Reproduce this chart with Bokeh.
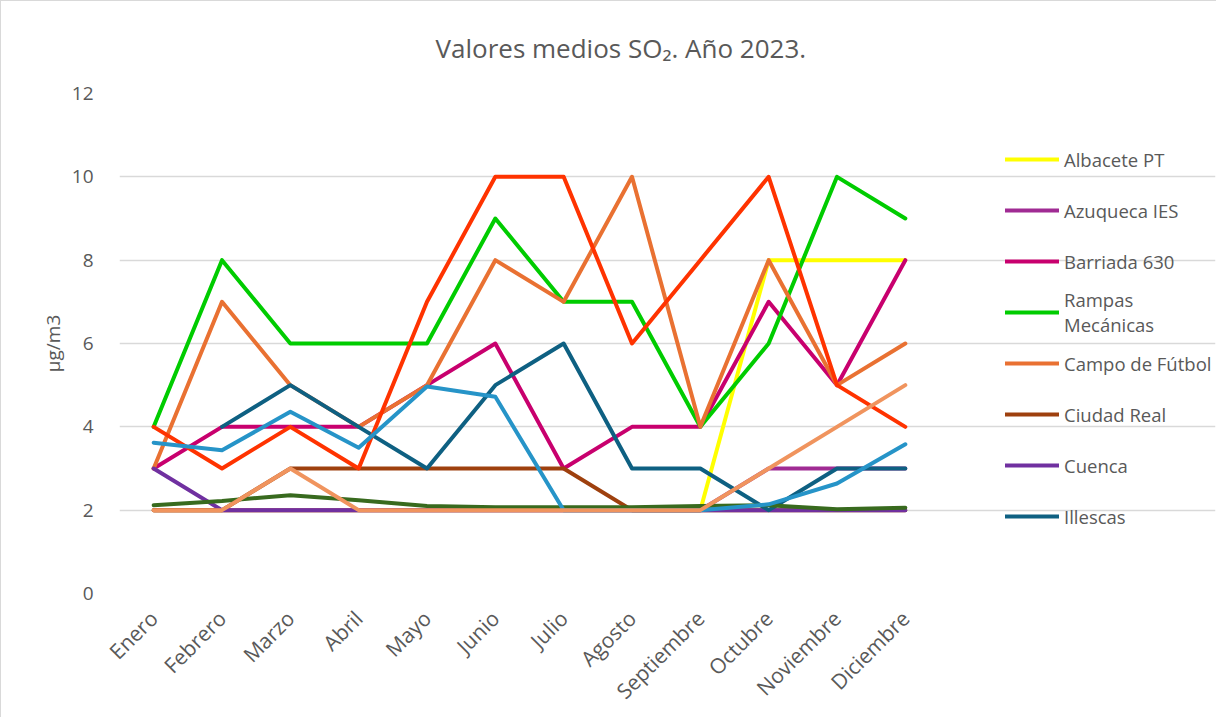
import math
from bokeh.plotting import figure
from bokeh.models import Legend, LegendItem, FixedTicker, Title
from bokeh.embed import file_html
from bokeh.resources import INLINE

months = ["Enero", "Febrero", "Marzo", "Abril", "Mayo", "Junio", "Julio",
          "Agosto", "Septiembre", "Octubre", "Noviembre", "Diciembre"]
nan = float("nan")

albacete_pt = [2, 2, 2, 2, 2, 2, 2, 2, 2, 8, 8, 8]
azuqueca_ies = [2, 2, 2, 2, 2, 2, 2, 2, 2, 3, 3, 3]
barriada_630 = [3, 4, 4, 4, 5, 6, 3, 4, 4, 7, 5, 8]
rampas_mecanicas = [4, 8, 6, 6, 6, 9, 7, 7, 4, 6, 10, 9]
campo_futbol = [3, 7, 5, 4, 5, 8, 7, 10, 4, 8, 5, 6]
ciudad_real = [2, 2, 3, 3, 3, 3, 3, 2, 2, 2, 2, 2]
cuenca = [3, 2, 2, 2, 2, 2, 2, 2, 2, 2, 2, 2]
illescas = [nan, 4, 5, 4, 3, 5, 6, 3, 3, 2, 3, 3]
serie_9 = [2.12, 2.22, 2.36, 2.24, 2.10, 2.07, 2.07, 2.07, 2.10, 2.12, 2.02, 2.06]
serie_10 = [4, 3, 4, 3, 7, 10, 10, 6, 8, 10, 5, 4]
serie_11 = [3.62, 3.44, 4.36, 3.50, 4.97, 4.72, 2, 2, 2, 2.14, 2.64, 3.58]
serie_12 = [2, 2, 3, 2, 2, 2, 2, 2, 2, 3, 4, 5]

y_ticks = [0, 2, 4, 6, 8, 10, 12]

series = [
    ("Albacete PT", albacete_pt, "#FFFF00", True),
    ("Azuqueca IES", azuqueca_ies, "#A02B93", True),
    ("Barriada 630", barriada_630, "#C8006E", True),
    ("Rampas\nMecánicas", rampas_mecanicas, "#00CC00", True),
    ("Campo de Fútbol", campo_futbol, "#E97132", True),
    ("Ciudad Real", ciudad_real, "#9E400E", True),
    ("Cuenca", cuenca, "#7030A0", True),
    ("Illescas", illescas, "#0E6082", True),
    ("Serie 9", serie_9, "#386A1E", False),
    ("Serie 10", serie_10, "#FF3300", False),
    ("Serie 11", serie_11, "#2694C8", False),
    ("Serie 12", serie_12, "#F0945E", False),
]

FONT = "Open Sans"
GRAY = "#595959"

# month positions 0..11; frame extended to the right to host the legend
xpos = list(range(len(months)))
unit_px = 820 / 12.0
frame_w = 1215 - 118 - 1
x_end = -0.5 + frame_w / unit_px

p = figure(x_range=(-0.5, x_end), y_range=(0, 12),
           frame_width=frame_w, frame_height=500,
           output_backend="svg", toolbar_location=None,
           min_border_left=118, min_border_right=1, min_border_top=92,
           min_border_bottom=100)
p.styles = {"border-left": "1px solid #D9D9D9",
            "border-top": "1px solid #D9D9D9"}
p.outline_line_color = None
p.background_fill_color = "white"
p.border_fill_color = "white"

p.xgrid.grid_line_color = None
p.ygrid.grid_line_color = "#D9D9D9"
p.ygrid.grid_line_width = 1.5
p.ygrid.bounds = (-0.5, len(months) - 0.5)
p.yaxis.ticker = FixedTicker(ticks=y_ticks)
p.xaxis.ticker = FixedTicker(ticks=xpos)
p.xaxis.major_label_overrides = {i: m for i, m in enumerate(months)}

for ax in (p.xaxis[0], p.yaxis[0]):
    ax.axis_line_color = None
    ax.major_tick_line_color = None
    ax.minor_tick_line_color = None
    ax.major_label_text_font = FONT
    ax.major_label_text_font_size = "19px"
    ax.major_label_text_color = GRAY
p.xaxis.major_label_text_font_size = "21px"
p.xaxis.major_label_orientation = math.pi / 4
p.xaxis.major_label_standoff = 15
p.yaxis.major_label_standoff = 20
p.yaxis.axis_label = "µg/m3"
p.yaxis.axis_label_text_font = FONT
p.yaxis.axis_label_text_font_style = "normal"
p.yaxis.axis_label_text_font_size = "19px"
p.yaxis.axis_label_text_color = GRAY
p.yaxis.axis_label_standoff = 3

items = []
for name, vals, color, in_legend in series:
    r = p.line(xpos, vals, line_color=color, line_width=4,
               line_join="round", line_cap="round")
    if in_legend:
        items.append(LegendItem(label=name, renderers=[r]))

legend = Legend(items=items, location=(886, 52), padding=0, margin=0,
                border_line_color=None, background_fill_alpha=0,
                glyph_width=54, glyph_height=20, label_height=50,
                spacing=1, label_standoff=5,
                label_text_font=FONT, label_text_font_size="18.5px",
                label_text_color=GRAY)
p.add_layout(legend, "center")

p.title = Title(text="Valores medios SO₂. Año 2023.", align="left",
                vertical_align="top", offset=316, standoff=52,
                text_font=FONT, text_font_size="26px",
                text_font_style="normal", text_color=GRAY)

open("out.html", "w").write(file_html(p, INLINE))
